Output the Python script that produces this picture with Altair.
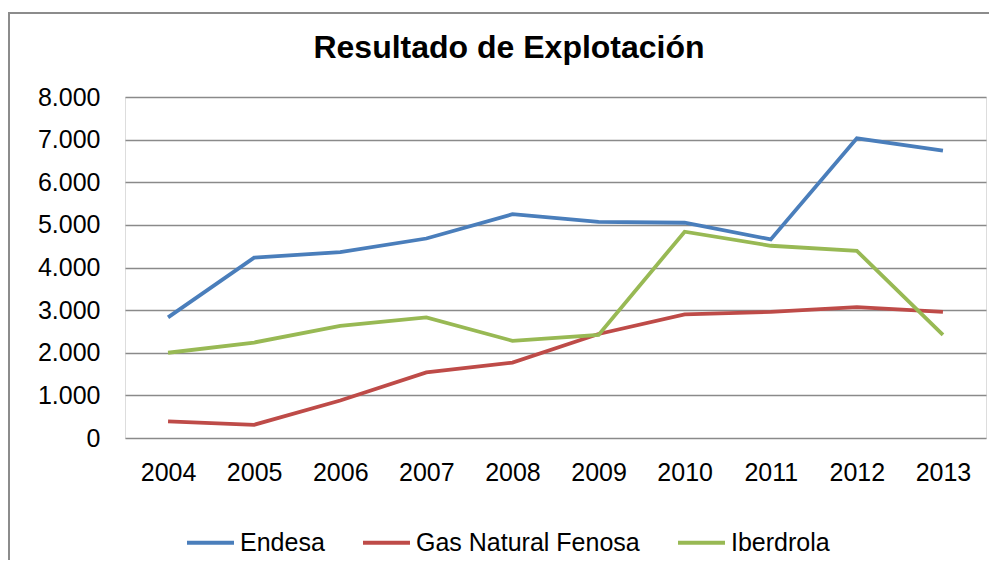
import altair as alt
import pandas as pd

years = ["2004", "2005", "2006", "2007", "2008", "2009", "2010", "2011", "2012", "2013"]
endesa = [2830, 4230, 4360, 4680, 5250, 5070, 5050, 4660, 7030, 6740]
gas_natural = [390, 310, 880, 1540, 1770, 2440, 2900, 2960, 3070, 2960]
iberdrola = [2000, 2240, 2630, 2830, 2280, 2420, 4840, 4510, 4390, 2420]
series_names = ["Endesa", "Gas Natural Fenosa", "Iberdrola"]
series_colors = ["#4a7ebb", "#be4b48", "#98b954"]
title_text = ["Resultado de Explotación"]

rows = []
for name, vals in zip(series_names, [endesa, gas_natural, iberdrola]):
    for y, v in zip(years, vals):
        rows.append({"Año": y, "Valor": v, "Empresa": name})
df = pd.DataFrame(rows)

FONT = "Liberation Sans"

lines = alt.Chart(df).mark_line(strokeWidth=3.8).encode(
    x=alt.X("Año:O", sort=years,
            scale=alt.Scale(type="point", padding=0.5),
            axis=alt.Axis(title=None, labelAngle=0, domain=False, ticks=False,
                          labelPadding=22, labelFontSize=25, labelFont=FONT,
                          labelColor="#000000", grid=False)),
    y=alt.Y("Valor:Q", scale=alt.Scale(domain=[0, 8000], nice=False),
            axis=alt.Axis(title=None, values=[0, 1000, 2000, 3000, 4000, 5000, 6000, 7000, 8000],
                          labelExpr="replace(format(datum.value, ','), ',', '.')",
                          domain=False, ticks=False, labelPadding=25,
                          labelFontSize=25, labelFont=FONT, labelColor="#000000",
                          grid=True, gridColor="#8a8a8a", gridWidth=1.5)),
    color=alt.Color("Empresa:N",
                    scale=alt.Scale(domain=series_names, range=series_colors),
                    legend=alt.Legend(title=None, orient="none", direction="horizontal",
                                      legendX=60, legendY=420, symbolType="stroke",
                                      symbolSize=2209, symbolStrokeWidth=4,
                                      labelFontSize=25, labelFont=FONT, labelColor="#000000",
                                      labelOffset=4, columnPadding=30, padding=0,
                                      labelLimit=0)),
)

frame = alt.Chart(pd.DataFrame({"k": [0]})).mark_rect(
    fill=None, stroke="#8c8c8c", strokeWidth=2
).encode(
    x=alt.value(-116), x2=alt.value(950), y=alt.value(-84), y2=alt.value(600)
)

title = alt.Chart(pd.DataFrame({"t": title_text})).mark_text(
    font=FONT, fontSize=32, fontWeight="bold", color="#000000",
    align="center", baseline="middle"
).encode(
    text="t:N", x=alt.value(384), y=alt.value(-49)
)

chart = alt.layer(frame, lines, title).properties(
    width=861,
    height=341,
    autosize=alt.AutoSizeParams(type="none"),
    padding={"left": 117, "top": 89, "right": 3, "bottom": 122},
).configure_view(stroke=None).configure(background="#ffffff")

chart.save("out.html", embed_options={"renderer": "svg", "actions": False})
